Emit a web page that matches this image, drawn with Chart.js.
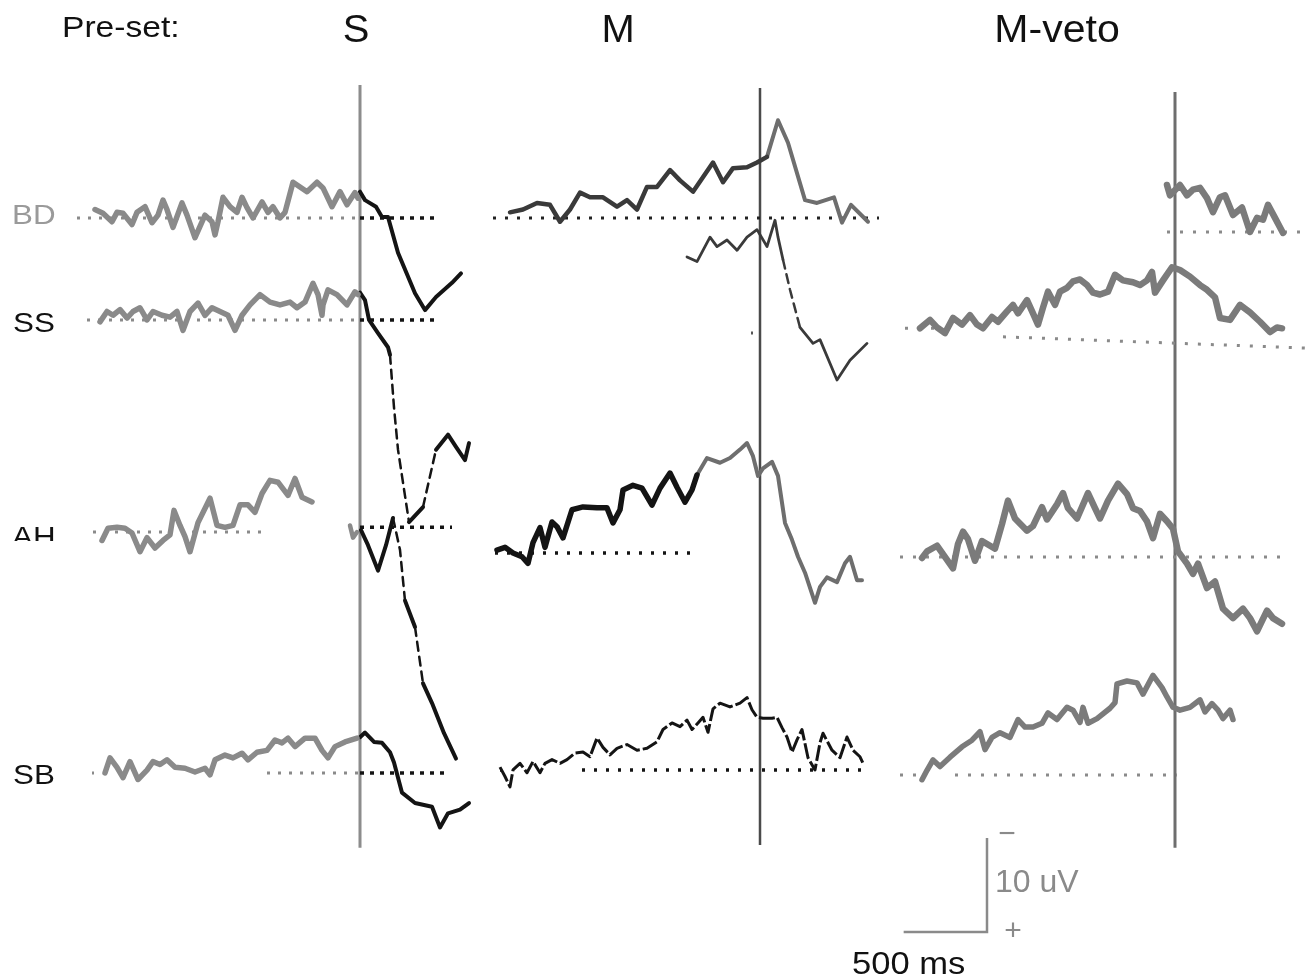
<!DOCTYPE html>
<html><head><meta charset="utf-8">
<script src="https://cdn.jsdelivr.net/npm/chart.js@4.4.1/dist/chart.umd.min.js"></script>
<style>html,body{margin:0;padding:0;background:#fff;}canvas{display:block;}</style>
</head><body>
<canvas id="c" width="1306" height="977"></canvas>
<script>
// ---------- DATA: [time relative to stimulus (ms), amplitude relative to baseline (uV), negative up] ----------
const panels = ['S', 'M', 'M-veto'];
const rows = ['BD', 'SS', 'AH', 'SB'];

// S pre-set
const BD_S_pre = [[-1590,-0.9],[-1542,-0.5],[-1488,0.4],[-1458,-0.6],[-1422,-0.5],[-1368,0.7],[-1338,-0.6],[-1290,-1.2],[-1248,0.5],[-1212,-0.3],[-1182,-1.9],[-1158,-0.9],[-1122,1.0],[-1068,-1.6],[-1038,-0.3],[-990,2.1],[-930,-0.3],[-888,0.4],[-870,1.8],[-852,0.4],[-822,-2.2],[-780,-1.2],[-738,-0.6],[-708,-2.2],[-678,-1.1],[-642,0],[-588,-1.7],[-552,-0.6],[-522,-1.2],[-480,0],[-450,-0.6],[-402,-3.8],[-318,-2.8],[-258,-3.8],[-222,-3.2],[-168,-1.2],[-120,-2.8],[-78,-1.4],[-30,-2.7],[-12,-2.1]];
const BD_S_post = [[0,-2.8],[30,-1.9],[96,-1.2],[132,-0.1],[168,-0.1],[228,3.7],[330,8.0],[390,9.8],[456,8.4],[552,6.9],[606,5.9]];
const SS_S_pre = [[-1560,0.2],[-1518,-0.9],[-1482,-0.5],[-1440,-1.1],[-1398,-0.2],[-1362,-0.9],[-1320,-1.3],[-1278,0],[-1242,-0.9],[-1188,-0.5],[-1140,-0.3],[-1098,-0.9],[-1062,1.1],[-1020,-0.9],[-972,-1.8],[-930,-0.5],[-888,-1.3],[-840,-0.9],[-792,-0.5],[-750,1.1],[-708,-0.5],[-660,-1.6],[-600,-2.7],[-540,-1.9],[-480,-1.6],[-420,-1.9],[-378,-1.3],[-330,-1.9],[-282,-3.9],[-252,-2.7],[-228,-0.5],[-222,-1.6],[-192,-3.2],[-138,-2.7],[-78,-1.6],[-30,-3.0],[-12,-2.7]];
const SS_S_post = [[0,-2.9],[30,-2.1],[54,0],[108,1.4],[168,2.9],[180,3.7],[204,9.3],[228,13.8],[294,21.5],[378,19.9],[456,13.8],[528,12.2],[576,13.5],[630,14.9],[654,13.1]];
const AH_S_pre = [[-1548,0.9],[-1512,-0.4],[-1458,-0.5],[-1410,-0.4],[-1368,0.1],[-1320,2.1],[-1278,0.6],[-1230,1.7],[-1182,0.9],[-1140,0.3],[-1116,-2.3],[-1080,-0.7],[-1050,0.5],[-1020,2.1],[-972,-1.0],[-900,-3.6],[-858,-0.7],[-810,-0.5],[-762,-0.7],[-720,-2.9],[-672,-2.9],[-630,-2.1],[-588,-4.1],[-540,-5.5],[-492,-5.3],[-432,-3.9],[-390,-5.7],[-348,-3.7],[-288,-3.2]];
const AH_S_gap = [[-60,-0.7],[-42,0.6],[-18,0]];
const AH_S_post = [[6,-0.2],[48,1.4],[108,4.1],[156,1.4],[198,-1.5],[240,1.9],[270,7.3],[330,10.1],[378,16.1],[432,18.2],[504,21.4],[576,24.1]];
const SB_S_pre = [[-1530,0],[-1500,-1.6],[-1458,-0.6],[-1422,0.5],[-1380,-1.2],[-1332,0.7],[-1278,-0.3],[-1242,-1.2],[-1200,-0.9],[-1158,-1.4],[-1110,-0.6],[-1050,-0.5],[-990,-0.1],[-930,-0.5],[-900,0.2],[-870,-1.4],[-810,-1.9],[-762,-1.6],[-708,-2.1],[-672,-1.4],[-618,-2.2],[-558,-2.4],[-510,-3.5],[-468,-3.2],[-432,-3.7],[-390,-2.8],[-330,-3.7],[-270,-3.7],[-228,-2.4],[-192,-1.6],[-150,-2.8],[-90,-3.3],[-18,-3.7]];
const SB_S_post = [[0,-3.8],[30,-4.3],[84,-3.3],[132,-3.2],[180,-2.2],[204,-1.1],[252,2.1],[330,3.2],[432,3.6],[480,5.8],[528,4.3],[600,3.9],[654,3.2]];

// M pre-set
const BD_M_pre = [[-1500,-0.6],[-1422,-0.9],[-1338,-1.6],[-1260,-1.4],[-1200,0.4],[-1140,-0.9],[-1080,-2.7],[-1020,-2.2],[-942,-2.2],[-858,-1.2],[-798,-1.9],[-738,-0.9],[-678,-3.3],[-618,-3.3],[-540,-5.1],[-480,-4.0],[-402,-2.8],[-282,-5.9],[-222,-3.8],[-162,-5.3],[-78,-5.4],[-18,-5.9],[42,-6.5]];
const BD_M_post = [[42,-6.5],[108,-10.4],[168,-8.0],[270,-1.9],[342,-1.6],[444,-2.2],[492,0.5],[546,-1.4],[648,0.4]];
const SS_M = [[-438,-8.1],[-378,-7.6],[-300,-10.2],[-258,-9.2],[-198,-9.9],[-138,-8.8],[-78,-10.2],[-18,-11.0],[42,-9.2],[90,-12.0],[108,-10.2],[138,-7.8],[180,-4.6],[240,-0.6],[318,1.1],[360,0.7],[462,5.0],[540,2.9],[642,1.1]];
const AH_M_pre = [[-1578,-0.3],[-1530,-0.6],[-1482,0],[-1428,0.4],[-1392,1.1],[-1362,-1.1],[-1320,-2.7],[-1290,-0.6],[-1248,-3.3],[-1218,-2.8],[-1182,-1.6],[-1128,-4.6],[-1062,-4.9],[-978,-4.8],[-918,-4.8],[-882,-3.2],[-840,-4.6],[-822,-6.7],[-762,-7.2],[-708,-6.9],[-648,-5.1],[-600,-6.9],[-540,-8.5],[-498,-7.0],[-450,-5.4],[-408,-6.7],[-378,-8.3]];
const AH_M_post = [[-378,-8.3],[-318,-10.1],[-240,-9.6],[-180,-10.1],[-120,-11.0],[-78,-11.7],[-42,-10.3],[-12,-8.2],[18,-9.0],[72,-9.7],[108,-8.2],[150,-3.2],[192,-1.4],[228,0.4],[270,2.1],[330,5.3],[360,3.6],[402,2.6],[462,3.1],[510,1.1],[540,0.4],[582,2.9],[612,2.9]];
const SB_M = [[-1560,-0.3],[-1530,0.7],[-1500,1.8],[-1482,0],[-1440,-0.7],[-1398,0.3],[-1362,-0.9],[-1320,0.3],[-1290,-0.7],[-1248,-1.1],[-1200,-0.7],[-1158,-1.1],[-1110,-1.8],[-1062,-1.9],[-1020,-1.4],[-978,-3.4],[-942,-2.4],[-900,-1.6],[-858,-2.3],[-798,-2.7],[-738,-2.1],[-678,-2.3],[-618,-3.0],[-582,-4.3],[-528,-5.0],[-480,-4.6],[-438,-5.3],[-408,-4.3],[-372,-5.0],[-342,-5.6],[-312,-4.0],[-282,-6.5],[-240,-7.1],[-180,-6.7],[-120,-7.1],[-78,-7.7],[-48,-6.4],[-18,-5.6],[18,-5.5],[72,-5.5],[102,-5.6],[132,-4.5],[162,-3.5],[192,-1.9],[222,-3.2],[252,-4.3],[288,-1.3],[330,0],[360,-2.9],[378,-3.9],[432,-2.1],[480,-1.3],[522,-3.5],[558,-2.1],[600,-1.4],[618,-0.7]];

// M-veto pre-set
const BD_V = [[-48,-5.0],[-30,-3.9],[30,-5.0],[72,-3.9],[108,-4.5],[150,-4.7],[192,-3.6],[228,-2.1],[270,-3.7],[300,-3.9],[348,-1.8],[402,-2.6],[450,0],[492,-1.5],[528,-1.3],[558,-2.9],[600,-1.5],[648,0.1]];
const SS_V = [[-1530,-0.5],[-1470,-1.4],[-1428,-0.6],[-1380,0],[-1332,-1.6],[-1278,-0.9],[-1230,-1.9],[-1188,-0.9],[-1152,-0.5],[-1098,-1.7],[-1062,-1.2],[-1008,-2.3],[-972,-3.0],[-942,-2.1],[-888,-3.5],[-852,-2.1],[-822,-0.9],[-792,-2.7],[-762,-4.4],[-720,-3.0],[-690,-4.4],[-648,-4.8],[-612,-5.5],[-570,-5.7],[-528,-5.1],[-492,-4.3],[-450,-4.1],[-402,-4.4],[-360,-6.2],[-312,-5.6],[-252,-5.4],[-210,-5.1],[-168,-5.6],[-138,-6.5],[-120,-4.3],[-72,-5.6],[-18,-7.0],[30,-6.7],[90,-6.0],[150,-5.1],[192,-4.6],[240,-3.8],[270,-1.6],[330,-1.4],[390,-3.0],[450,-2.2],[510,-1.2],[570,-0.1],[612,-0.6],[642,-0.5]];
const AH_V = [[-1518,0.1],[-1488,-0.6],[-1428,-1.2],[-1392,-0.3],[-1332,1.2],[-1302,-1.4],[-1272,-2.7],[-1242,-1.9],[-1200,0.4],[-1158,-1.7],[-1110,-1.2],[-1080,-0.9],[-1038,-3.5],[-1002,-6.0],[-960,-4.1],[-888,-2.8],[-852,-3.3],[-798,-5.3],[-768,-4.0],[-708,-5.6],[-672,-6.8],[-642,-5.2],[-588,-4.1],[-522,-6.8],[-480,-5.2],[-450,-4.1],[-402,-6.0],[-342,-7.8],[-288,-6.7],[-252,-5.2],[-210,-4.9],[-168,-3.8],[-132,-2.0],[-90,-4.6],[-48,-3.8],[-12,-3.0],[18,-0.6],[72,0.7],[108,1.8],[138,0.7],[192,3.3],[240,2.6],[288,5.5],[348,6.5],[408,5.5],[450,6.5],[492,7.9],[552,5.7],[588,6.5],[642,7.1]];
const SB_V = [[-1518,0.5],[-1488,-0.5],[-1452,-1.6],[-1410,-0.9],[-1350,-1.9],[-1278,-3.0],[-1218,-3.7],[-1170,-4.6],[-1140,-2.7],[-1098,-4.0],[-1050,-4.5],[-990,-4.0],[-942,-5.9],[-900,-5.1],[-852,-5.1],[-798,-5.5],[-762,-6.6],[-708,-5.9],[-648,-7.2],[-612,-6.9],[-570,-5.6],[-552,-7.2],[-522,-5.5],[-468,-6.0],[-390,-7.1],[-360,-7.7],[-348,-9.7],[-288,-10.0],[-228,-9.8],[-192,-8.6],[-132,-10.6],[-78,-9.3],[-48,-8.3],[-12,-7.2],[30,-6.9],[90,-7.2],[150,-8.0],[180,-6.7],[222,-7.6],[258,-6.9],[288,-6.0],[330,-6.9],[348,-5.9]];

// Baselines: [start ms, end ms, start uV, end uV]
const baselineS = { BD_pre:[-1698,0,0,0], BD_post:[0,480,0,0], SS_pre:[-1638,0,0,0], SS_post:[0,462,0,0], AH_pre:[-1602,-582,0,0], AH_post:[0,552,-0.5,-0.5], SB_pre_a:[-1608,-1596,0,0], SB_pre_b:[-558,0,0,0], SB_post:[0,540,0,0] };
const baselineM = { BD:[-1602,714,0,0], SS:[-54,-42,0,0], AH:[-1590,-390,0,0], SB_a:[-1560,-1548,0,0], SB_b:[-1068,648,0,0] };
const baselineV = { BD:[-48,786,0,0], SS_a:[-1620,-1440,-0.5,-0.5], SS_b:[-1032,786,0.4,1.6], AH:[-1650,630,0,0], SB_a:[-1650,-1530,0,0], SB_b:[-1320,12,0,0] };

// Calibration bar values
const calTime = 500;   // ms
const calVolt = 10;    // uV

// ---------- LAYOUT (figure placement in ms / uV units) ----------
const X_MAX = 7836, Y_MAX = 103.94;
const STIM = { S: 2160, M: 4560, V: 7050 };
const BASE = {
  S: { BD: 23.19, SS: 34.04, AH: 56.60, SB: 82.23 },
  M: { BD: 23.19, SS: 35.43, AH: 58.83, SB: 81.91 },
  V: { BD: 24.68, SS: 35.43, AH: 59.26, SB: 82.45 }
};
const GRAY = '#8a8a8a', BLACK = '#141414', DARK = '#3a3a3a', MID = '#6e6e6e', VGRAY = '#7b7b7b';

function pts(arr, stim, base) { return arr.map(([t, v]) => ({ x: stim + t, y: base + v })); }
function steep(ctx) {
  const dx = Math.abs(ctx.p1.x - ctx.p0.x), dy = Math.abs(ctx.p1.y - ctx.p0.y);
  return dy > 3.5 * dx && dy > 28;
}
function trace(arr, p, r, color, width, opts = {}) {
  const ds = {
    data: pts(arr, STIM[p], BASE[p][r]), showLine: true, borderColor: color, borderWidth: width,
    pointRadius: 0, pointHoverRadius: 0, tension: 0, borderJoinStyle: 'round', borderCapStyle: 'round', order: 1
  };
  if (opts.dashSteep) ds.segment = { borderDash: c => steep(c) ? [9, 6] : undefined, borderWidth: c => steep(c) ? 2.5 : undefined };
  if (opts.dash) { ds.borderDash = opts.dash; ds.borderCapStyle = 'butt'; }
  return ds;
}
function dotted(b, p, r, color, width, dash) {
  return {
    data: [{ x: STIM[p] + b[0], y: BASE[p][r] + b[2] }, { x: STIM[p] + b[1], y: BASE[p][r] + b[3] }],
    showLine: true, borderColor: color, borderWidth: width, borderDash: dash, borderCapStyle: 'butt',
    pointRadius: 0, pointHoverRadius: 0, order: 5
  };
}
function vline(x, y0, y1, color, width) {
  return { data: [{ x, y: y0 }, { x, y: y1 }], showLine: true, borderColor: color, borderWidth: width, pointRadius: 0, pointHoverRadius: 0, order: 10 };
}

const GD = [3, 8], BDash = [4, 6], MD = [3, 9], VD = [3, 10];
const datasets = [
  // stimulus lines
  vline(STIM.S, 9.04, 90.2, '#8c8c8c', 3),
  vline(STIM.M, 9.36, 89.9, '#4a4a4a', 2.5),
  vline(STIM.V, 9.79, 90.2, '#6e6e6e', 3),
  // S baselines
  dotted(baselineS.BD_pre, 'S', 'BD', GRAY, 3, GD), dotted(baselineS.BD_post, 'S', 'BD', BLACK, 3.5, BDash),
  dotted(baselineS.SS_pre, 'S', 'SS', GRAY, 3, GD), dotted(baselineS.SS_post, 'S', 'SS', BLACK, 3.5, BDash),
  dotted(baselineS.AH_pre, 'S', 'AH', GRAY, 3, GD), dotted(baselineS.AH_post, 'S', 'AH', BLACK, 3.5, BDash),
  dotted(baselineS.SB_pre_a, 'S', 'SB', GRAY, 3, GD), dotted(baselineS.SB_pre_b, 'S', 'SB', GRAY, 3, GD),
  dotted(baselineS.SB_post, 'S', 'SB', BLACK, 3.5, BDash),
  // M baselines
  dotted(baselineM.BD, 'M', 'BD', '#222', 3, MD), dotted(baselineM.SS, 'M', 'SS', '#555', 3, [12, 0]),
  dotted(baselineM.AH, 'M', 'AH', BLACK, 3.5, MD),
  dotted(baselineM.SB_a, 'M', 'SB', BLACK, 3.5, MD), dotted(baselineM.SB_b, 'M', 'SB', BLACK, 3.5, MD),
  // M-veto baselines
  dotted(baselineV.BD, 'V', 'BD', GRAY, 3, VD), dotted(baselineV.SS_a, 'V', 'SS', GRAY, 3, VD), dotted(baselineV.SS_b, 'V', 'SS', GRAY, 3, VD),
  dotted(baselineV.AH, 'V', 'AH', GRAY, 3, VD), dotted(baselineV.SB_a, 'V', 'SB', GRAY, 3, VD), dotted(baselineV.SB_b, 'V', 'SB', GRAY, 3, VD),
  // S traces
  trace(BD_S_pre, 'S', 'BD', GRAY, 5.5), trace(BD_S_post, 'S', 'BD', BLACK, 4),
  trace(SS_S_pre, 'S', 'SS', GRAY, 5.5), trace(SS_S_post, 'S', 'SS', BLACK, 4, { dashSteep: true }),
  trace(AH_S_pre, 'S', 'AH', GRAY, 5.5), trace(AH_S_gap, 'S', 'AH', GRAY, 4.5), trace(AH_S_post, 'S', 'AH', BLACK, 4, { dashSteep: true }),
  trace(SB_S_pre, 'S', 'SB', GRAY, 5.5), trace(SB_S_post, 'S', 'SB', BLACK, 4),
  // M traces
  trace(BD_M_pre, 'M', 'BD', DARK, 4.5), trace(BD_M_post, 'M', 'BD', MID, 4),
  trace(SS_M, 'M', 'SS', DARK, 2.8, { dashSteep: true }),
  trace(AH_M_pre, 'M', 'AH', BLACK, 5.5), trace(AH_M_post, 'M', 'AH', MID, 4),
  trace(SB_M, 'M', 'SB', BLACK, 3, { dash: [16, 3] }),
  // M-veto traces
  trace(BD_V, 'V', 'BD', VGRAY, 6.5), trace(SS_V, 'V', 'SS', VGRAY, 6.5),
  trace(AH_V, 'V', 'AH', VGRAY, 6.5), trace(SB_V, 'V', 'SB', VGRAY, 5.5),
];

// calibration bar (500 ms x 10 uV) anchored at its corner
const CAL = { x: 5922, y: 99.15 };
datasets.push({
  data: [{ x: CAL.x - calTime, y: CAL.y }, { x: CAL.x, y: CAL.y }, { x: CAL.x, y: CAL.y - calVolt }],
  showLine: true, borderColor: '#8a8a8a', borderWidth: 2.5, pointRadius: 0, pointHoverRadius: 0, order: 2
});

// ---------- TEXT ----------
const textItems = [
  { t: 'Pre-set:', x: 62, y: 37, size: 30, sx: 1.12, color: '#111', align: 'left' },
  { t: panels[0], x: 356, y: 42, size: 38, sx: 1.05, color: '#111', align: 'center' },
  { t: panels[1], x: 618, y: 42, size: 38, sx: 1.05, color: '#111', align: 'center' },
  { t: panels[2], x: 1057, y: 42, size: 38, sx: 1.08, color: '#111', align: 'center' },
  { t: rows[0], x: 12, y: 224, size: 28, sx: 1.12, color: '#9a9a9a', align: 'left' },
  { t: rows[1], x: 13, y: 332, size: 28, sx: 1.12, color: '#111', align: 'left' },
  { t: rows[2], x: 12, y: 546, size: 28, sx: 1.12, color: '#111', align: 'left', clipBottom: 541 },
  { t: rows[3], x: 13, y: 784, size: 28, sx: 1.12, color: '#111', align: 'left' },
  { t: '−', x: 1007, y: 843, size: 30, sx: 1, color: '#8a8a8a', align: 'center' },
  { t: calVolt + ' uV', x: 995, y: 892, size: 32, sx: 1.0, color: '#8a8a8a', align: 'left' },
  { t: '+', x: 1013, y: 940, size: 30, sx: 1, color: '#8a8a8a', align: 'center' },
  { t: calTime + ' ms', x: 852, y: 974, size: 32, sx: 1.08, color: '#111', align: 'left' },
];
const textPlugin = {
  id: 'figText',
  afterDatasetsDraw(chart) {
    const ctx = chart.ctx;
    textItems.forEach(it => {
      ctx.save();
      if (it.clipBottom) { ctx.beginPath(); ctx.rect(0, 0, chart.width, it.clipBottom); ctx.clip(); }
      ctx.translate(it.x, it.y);
      ctx.scale(it.sx, 1);
      ctx.font = it.size + 'px "Liberation Sans", Arial, sans-serif';
      ctx.fillStyle = it.color;
      ctx.textAlign = it.align;
      ctx.textBaseline = 'alphabetic';
      ctx.fillText(it.t, 0, 0);
      ctx.restore();
    });
  }
};

new Chart(document.getElementById('c'), {
  type: 'scatter',
  data: { datasets },
  options: {
    responsive: false, animation: false, events: [],
    layout: { padding: 0 },
    plugins: { legend: { display: false }, tooltip: { enabled: false }, title: { display: false } },
    scales: {
      x: { type: 'linear', display: false, min: 0, max: X_MAX },
      y: { type: 'linear', display: false, min: 0, max: Y_MAX, reverse: true }
    }
  },
  plugins: [textPlugin]
});
</script>
</body></html>
